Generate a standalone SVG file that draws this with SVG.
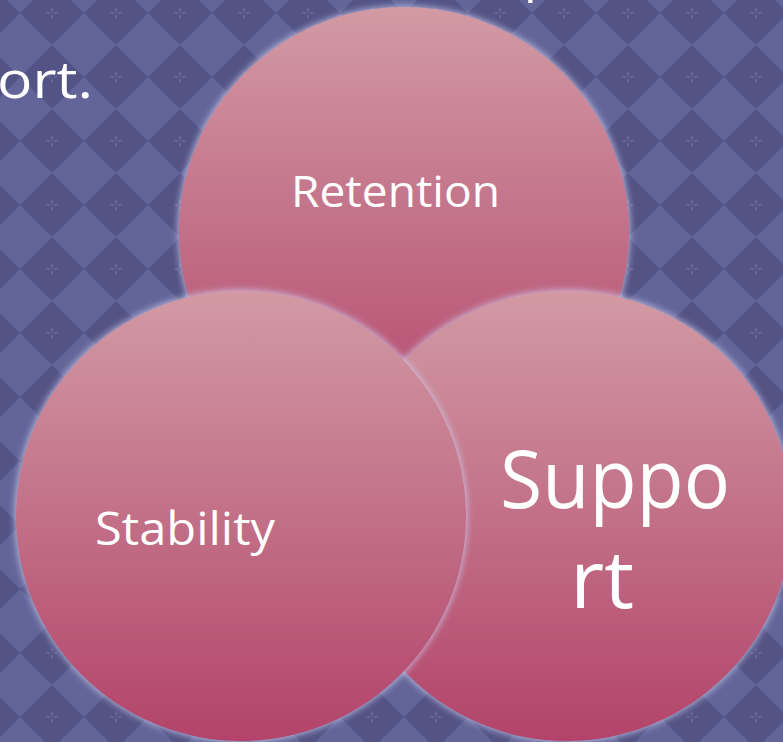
<svg xmlns="http://www.w3.org/2000/svg" width="783" height="742" viewBox="0 0 783 742">
  <defs>
    <!-- diamond checkerboard backdrop with small sparkle marks -->
    <pattern id="diamonds" patternUnits="userSpaceOnUse" x="20" y="-19" width="64" height="64">
      <rect width="64" height="64" fill="#636599"/>
      <polygon points="32,0 64,32 32,64 0,32" fill="#535386"/>
      <g stroke="#76759f" stroke-width="1.1" stroke-linecap="round">
        <line x1="32" y1="27" x2="32" y2="30"/>
        <line x1="32" y1="34" x2="32" y2="37"/>
        <line x1="27" y1="32" x2="30" y2="32"/>
        <line x1="34" y1="32" x2="37" y2="32"/>
      </g>
    </pattern>
    <linearGradient id="petal" x1="0" y1="0" x2="0" y2="1">
      <stop offset="0" stop-color="#d29aa4"/>
      <stop offset="0.5" stop-color="#c27088"/>
      <stop offset="1" stop-color="#b3436a"/>
    </linearGradient>
    <filter id="glow" x="-10%" y="-10%" width="120%" height="120%">
      <feGaussianBlur stdDeviation="3.5"/>
    </filter>
    <style>
      .halo { fill: #cfd0f0; opacity: 0.8; filter: url(#glow); }
      .disc { fill: url(#petal); }
      .lbl { font-family: "Open Sans", "Noto Sans", "DejaVu Sans", sans-serif; fill: #ffffff; }
    </style>
  </defs>

  <rect width="783" height="742" fill="url(#diamonds)"/>

  <!-- body text running off the top of the slide -->
  <g id="body-text">
    <text class="lbl" x="524" y="-9" font-size="50">p</text>
    <text class="lbl" x="-3" y="98" font-size="52" textLength="96" lengthAdjust="spacingAndGlyphs">ort.</text>
  </g>

  <g id="retention">
    <circle class="halo" cx="404" cy="232" r="226"/>
    <circle class="disc" cx="404" cy="232" r="225"/>
    <text class="lbl" x="291" y="207" font-size="44" textLength="209" lengthAdjust="spacingAndGlyphs">Retention</text>
  </g>

  <g id="support">
    <circle class="halo" cx="567" cy="516" r="226"/>
    <circle class="disc" cx="567" cy="516" r="225"/>
    <text class="lbl" x="500" y="508" font-size="80" textLength="230" lengthAdjust="spacingAndGlyphs">Suppo</text>
    <text class="lbl" x="570" y="608" font-size="80" textLength="64" lengthAdjust="spacingAndGlyphs">rt</text>
  </g>

  <g id="stability">
    <circle class="halo" cx="241" cy="516" r="226"/>
    <circle class="disc" cx="241" cy="516" r="225"/>
    <text class="lbl" x="95" y="545" font-size="46" textLength="180" lengthAdjust="spacingAndGlyphs">Stability</text>
  </g>

  <g id="connectors"/>
</svg>
